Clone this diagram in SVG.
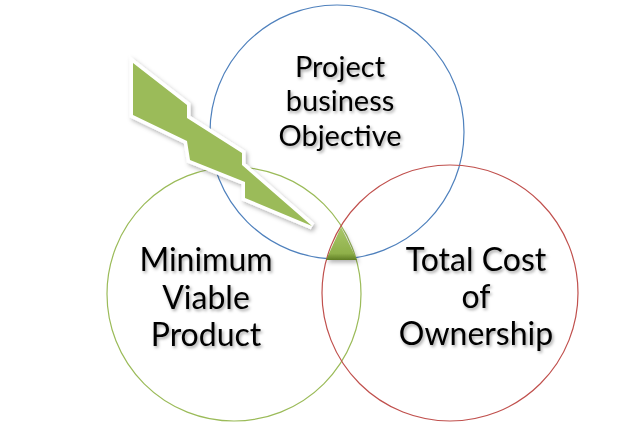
<svg xmlns="http://www.w3.org/2000/svg" width="642" height="432" viewBox="0 0 642 432">
<defs>
<style>
.c{fill:none;stroke-width:1.2}
.t{font-family:Lato,"Open Sans","Liberation Sans",sans-serif;fill:#000;text-anchor:middle}
</style>
<filter id="ts" x="-10%" y="-20%" width="130%" height="150%">
<feDropShadow dx="1.5" dy="2" stdDeviation="1.4" flood-color="#000" flood-opacity="0.35"/>
</filter>
<filter id="bs" x="-10%" y="-10%" width="130%" height="130%">
<feDropShadow dx="2" dy="2.5" stdDeviation="2" flood-color="#000" flood-opacity="0.3"/>
</filter>
<linearGradient id="tg" x1="0" y1="0" x2="0" y2="1">
<stop offset="0" stop-color="#a9c76a"/>
<stop offset="0.8" stop-color="#8fb04a"/>
<stop offset="1" stop-color="#5f7d24"/>
</linearGradient>
<polygon id="bp" points="133,63 187,105 187,118 242,153 242,165 312,226 245,198 245,182 190,160 187,141 133,115"/>
</defs>
<rect width="642" height="432" fill="#fff"/>
<g id="objective">
<circle class="c" cx="337" cy="132" r="127" stroke="#4F81BD"/>
</g>
<g id="mvp">
<circle class="c" cx="234" cy="294" r="127" stroke="#9BBB59"/>
</g>
<g id="tco">
<circle class="c" cx="450" cy="293" r="128" stroke="#C0504D"/>
</g>
<g id="bolt">
<use href="#bp" fill="#fff" stroke="#fff" stroke-width="7" stroke-linejoin="miter" filter="url(#bs)"/>
<use href="#bp" fill="#9BBB59"/>
</g>
<g id="intersection" filter="url(#bs)">
<polygon points="341,227 326,260 357,260" fill="url(#tg)"/>
</g>
<g id="labels" filter="url(#ts)">
<text class="t" font-size="29"><tspan x="340" y="76.5">Project</tspan><tspan x="340" y="111">business</tspan><tspan x="340" y="145.5">Objective</tspan></text>
<text class="t" font-size="32"><tspan x="206" y="271">Minimum</tspan><tspan x="206" y="309">Viable</tspan><tspan x="206" y="346">Product</tspan></text>
<text class="t" font-size="32"><tspan x="476" y="271">Total Cost</tspan><tspan x="476" y="308">of</tspan><tspan x="476" y="345">Ownership</tspan></text>
</g>
</svg>
